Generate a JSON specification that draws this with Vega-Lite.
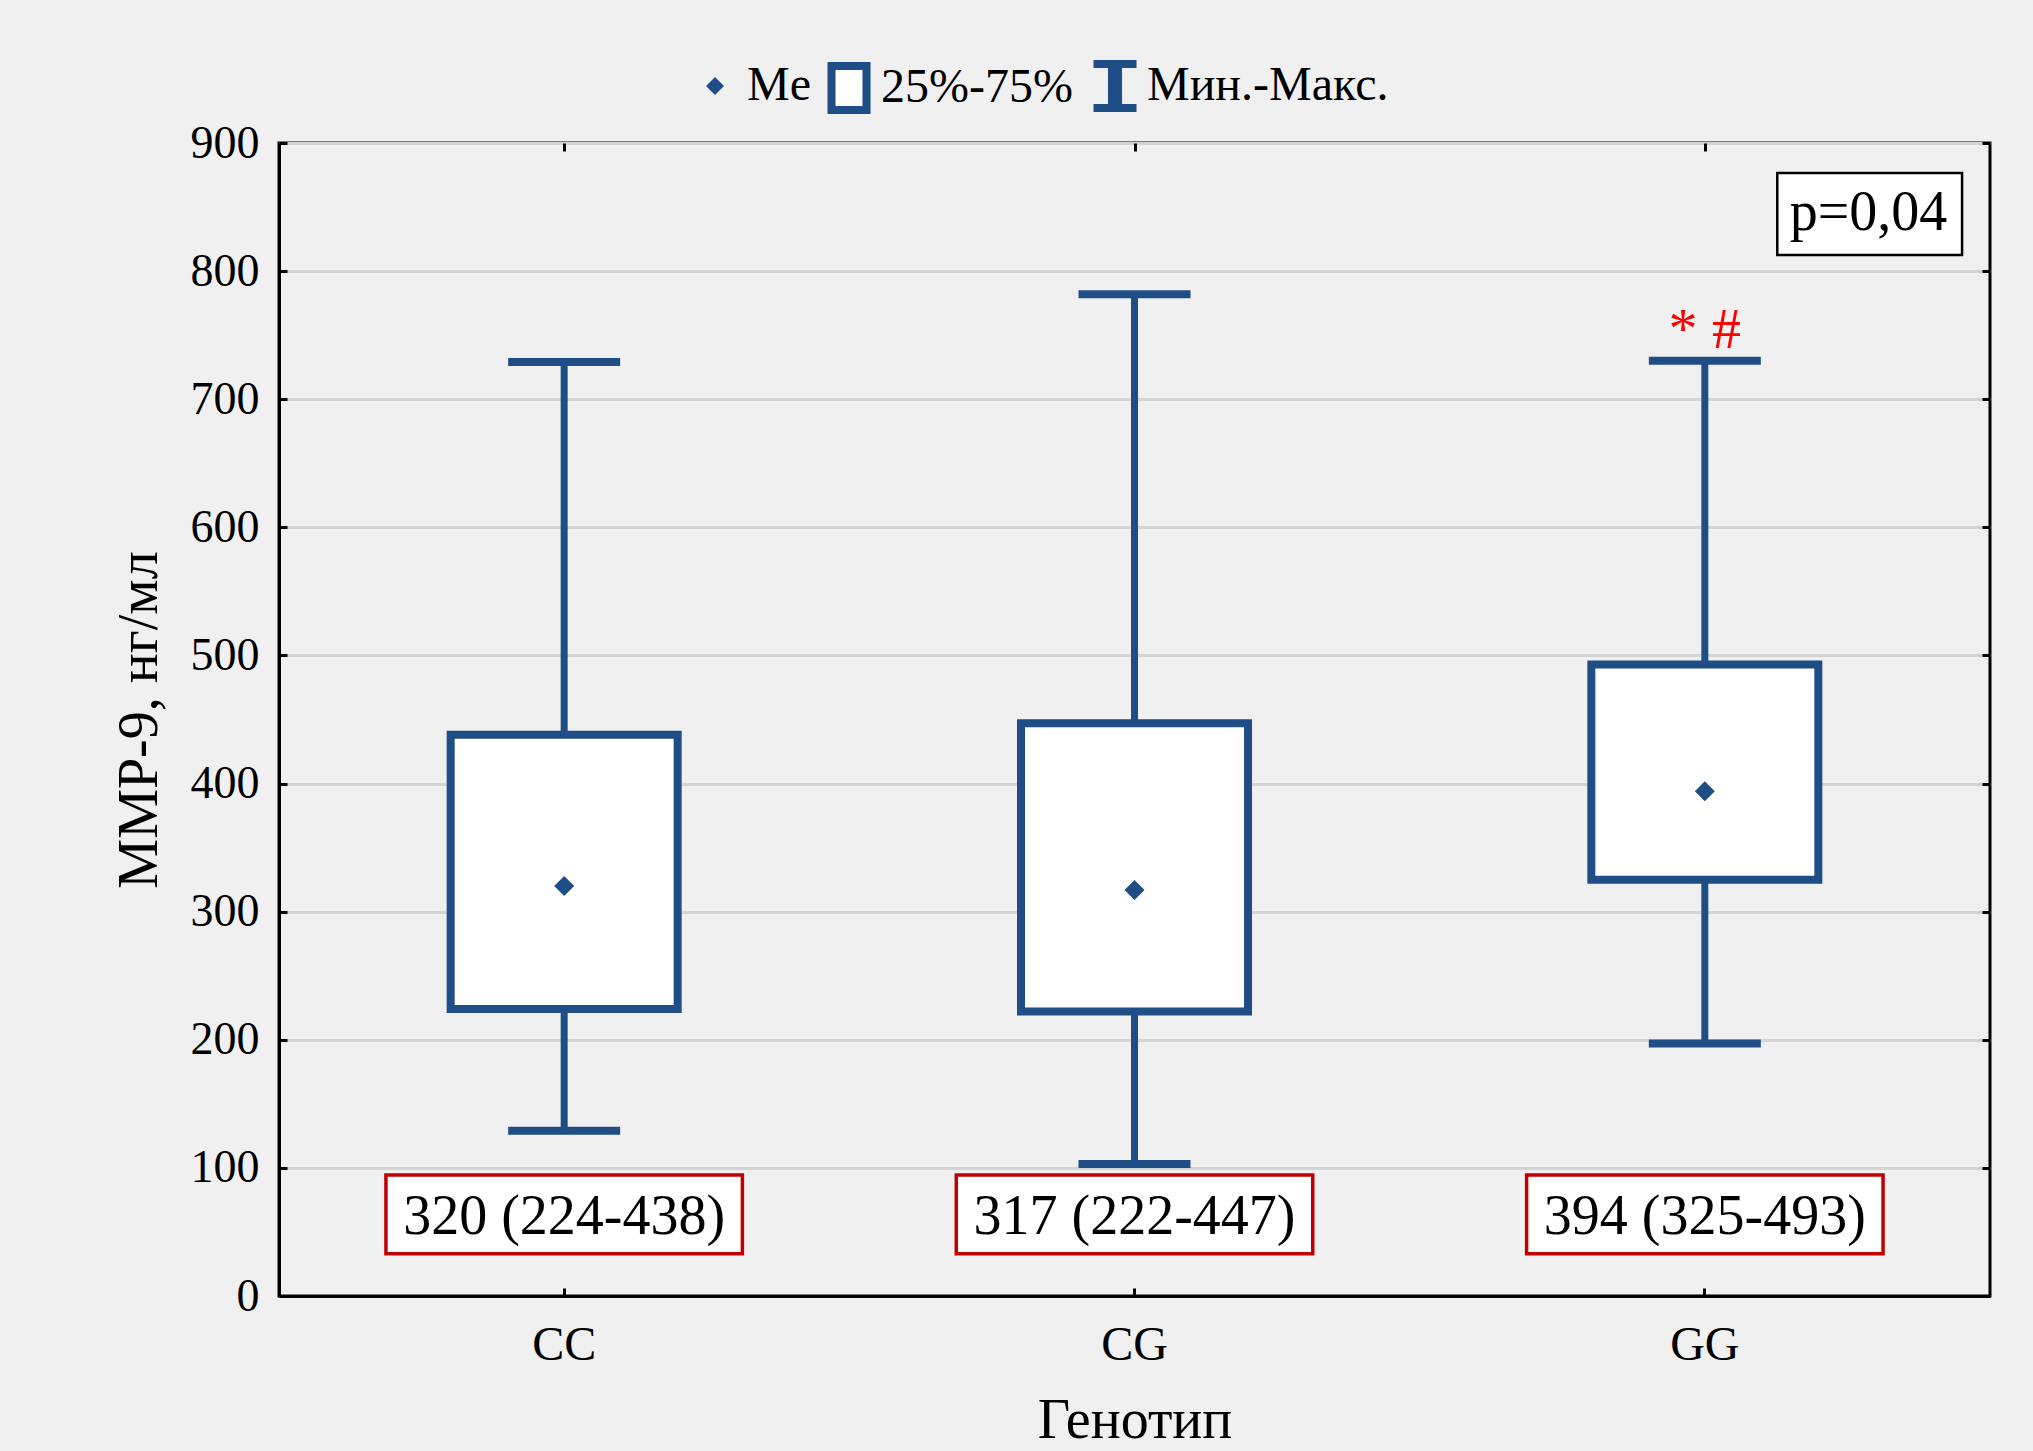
{
  "$schema": "https://vega.github.io/schema/vega-lite/v6.json",
  "width": 1711,
  "height": 1153,
  "autosize": {"type": "none"},
  "padding": {"left": 279, "top": 143, "right": 43, "bottom": 155},
  "background": "#f0f0f0",
  "config": {
    "view": {"fill": "white", "stroke": "black", "strokeWidth": 3},
    "font": "Liberation Serif",
    "axis": {
      "labelFont": "Liberation Serif",
      "titleFont": "Liberation Serif",
      "labelColor": "black",
      "titleColor": "black",
      "titleFontWeight": "normal",
      "domainColor": "black",
      "domainWidth": 3,
      "tickColor": "black",
      "tickWidth": 3,
      "tickSize": -8
    },
    "axisY": {
      "labelFontSize": 46,
      "labelPadding": 28,
      "titleFontSize": 56,
      "titlePadding": 22,
      "gridColor": "#d4d4d4",
      "gridWidth": 3,
      "tickCount": 9
    },
    "axisX": {
      "labelFontSize": 48,
      "labelPadding": 33,
      "labelAngle": 0,
      "titleFontSize": 56,
      "titlePadding": 24,
      "grid": false
    }
  },
  "layer": [
    {
      "data": {
        "values": [
          {"genotype": "CC", "min": 129, "q1": 224, "median": 320, "q3": 438, "max": 729, "label": "320 (224-438)", "sig": ""},
          {"genotype": "CG", "min": 103, "q1": 222, "median": 317, "q3": 447, "max": 782, "label": "317 (222-447)", "sig": ""},
          {"genotype": "GG", "min": 197, "q1": 325, "median": 394, "q3": 493, "max": 730, "label": "394 (325-493)", "sig": "* #"}
        ]
      },
      "encoding": {
        "x": {"field": "genotype", "type": "nominal", "title": "Генотип", "scale": {"paddingInner": 0, "paddingOuter": 0}}
      },
      "layer": [
        {
          "mark": {"type": "rule", "color": "#1F4E87", "strokeWidth": 7},
          "encoding": {
            "y": {"field": "min", "type": "quantitative", "title": "ММР-9, нг/мл", "scale": {"domain": [0, 900], "nice": false, "zero": false}},
            "y2": {"field": "q1"}
          }
        },
        {
          "mark": {"type": "rule", "color": "#1F4E87", "strokeWidth": 7},
          "encoding": {
            "y": {"field": "q3", "type": "quantitative", "title": "ММР-9, нг/мл"},
            "y2": {"field": "max"}
          }
        },
        {
          "mark": {"type": "tick", "color": "#1F4E87", "size": 112, "thickness": 8, "opacity": 1},
          "encoding": {"y": {"field": "min", "type": "quantitative", "title": "ММР-9, нг/мл"}}
        },
        {
          "mark": {"type": "tick", "color": "#1F4E87", "size": 112, "thickness": 8, "opacity": 1},
          "encoding": {"y": {"field": "max", "type": "quantitative", "title": "ММР-9, нг/мл"}}
        },
        {
          "mark": {"type": "bar", "fill": "white", "stroke": "#1F4E87", "strokeWidth": 8, "width": {"band": 0.398}},
          "encoding": {
            "y": {"field": "q1", "type": "quantitative", "title": "ММР-9, нг/мл"},
            "y2": {"field": "q3"}
          }
        },
        {
          "mark": {"type": "point", "shape": "diamond", "filled": true, "color": "#1F4E87", "size": 400, "opacity": 1},
          "encoding": {"y": {"field": "median", "type": "quantitative", "title": "ММР-9, нг/мл"}}
        },
        {
          "mark": {"type": "bar", "fill": "white", "stroke": "#C00000", "strokeWidth": 3.5, "width": {"band": 0.625}},
          "encoding": {
            "y": {"datum": 33, "type": "quantitative", "title": "ММР-9, нг/мл"},
            "y2": {"datum": 94.5}
          }
        },
        {
          "mark": {"type": "text", "fontSize": 56, "baseline": "middle", "color": "black", "font": "Liberation Serif"},
          "encoding": {
            "y": {"datum": 62, "type": "quantitative", "title": "ММР-9, нг/мл"},
            "text": {"field": "label"}
          }
        },
        {
          "mark": {"type": "text", "fontSize": 58, "baseline": "alphabetic", "dy": -13, "color": "#FF0000", "font": "Liberation Serif"},
          "encoding": {
            "y": {"field": "max", "type": "quantitative", "title": "ММР-9, нг/мл"},
            "text": {"field": "sig"}
          }
        }
      ]
    },
    {
      "data": {"values": [{"genotype": "CC"}, {"genotype": "CG"}, {"genotype": "GG"}]},
      "mark": {"type": "point", "opacity": 0},
      "encoding": {
        "x": {"field": "genotype", "type": "nominal", "scale": {"paddingInner": 0, "paddingOuter": 0}, "axis": {"orient": "top", "labels": false, "title": null, "domain": false, "grid": false}},
        "y": {"datum": 0, "type": "quantitative", "scale": {"domain": [0, 900], "nice": false, "zero": false}, "axis": {"orient": "right", "labels": false, "title": null, "domain": false, "grid": false, "tickCount": 9}}
      }
    },
    {
      "data": {"values": [{"p": "p=0,04"}]},
      "layer": [
        {
          "mark": {"type": "rect", "fill": "white", "stroke": "black", "strokeWidth": 2.5},
          "encoding": {
            "x": {"datum": 2.627, "type": "quantitative", "scale": {"domain": [0, 3], "nice": false, "zero": false}, "axis": null},
            "x2": {"datum": 2.951},
            "y": {"datum": 812.6, "type": "quantitative", "axis": null},
            "y2": {"datum": 876.6}
          }
        },
        {
          "mark": {"type": "text", "fontSize": 56, "baseline": "middle", "color": "black", "font": "Liberation Serif"},
          "encoding": {
            "x": {"datum": 2.787, "type": "quantitative", "axis": null},
            "y": {"datum": 845.5, "type": "quantitative", "axis": null},
            "text": {"field": "p"}
          }
        }
      ]
    },
    {
      "data": {"values": [{"item": "Me"}, {"item": "25%-75%"}, {"item": "Мин.-Макс."}]},
      "mark": {"type": "point", "filled": true, "opacity": 0},
      "encoding": {
        "shape": {
          "field": "item", "type": "nominal",
          "scale": {
            "domain": ["Me", "25%-75%", "Мин.-Макс."],
            "range": [
              "M-0.827,-1L-0.827,-1M0.827,1L0.827,1M0,-0.346L0.346,0L0,0.346L-0.346,0Z",
              "M-0.673,-0.846H0.673V0.846H-0.673Z",
              "M-0.827,-1H0.827V-0.69H0.27V0.69H0.827V1H-0.827V0.69H-0.27V-0.69H-0.827Z"
            ]
          },
          "legend": {"title": null, "orient": "none", "legendX": 406, "legendY": -87, "direction": "horizontal", "padding": 0, "symbolSize": 2704, "symbolStrokeWidth": 8, "symbolOpacity": 1, "labelFont": "Liberation Serif", "labelFontSize": 48, "labelColor": "black", "labelOffset": 2, "columnPadding": 4, "labelLimit": 0}
        },
        "fill": {
          "field": "item", "type": "nominal",
          "scale": {"domain": ["Me", "25%-75%", "Мин.-Макс."], "range": ["#1F4E87", "white", "#1F4E87"]},
          "legend": {"title": null, "orient": "none", "legendX": 406, "legendY": -87, "direction": "horizontal", "padding": 0, "symbolSize": 2704, "symbolStrokeWidth": 8, "symbolOpacity": 1, "labelFont": "Liberation Serif", "labelFontSize": 48, "labelColor": "black", "labelOffset": 2, "columnPadding": 4, "labelLimit": 0}
        },
        "stroke": {
          "field": "item", "type": "nominal",
          "scale": {"domain": ["Me", "25%-75%", "Мин.-Макс."], "range": ["transparent", "#1F4E87", "transparent"]},
          "legend": {"title": null, "orient": "none", "legendX": 406, "legendY": -87, "direction": "horizontal", "padding": 0, "symbolSize": 2704, "symbolStrokeWidth": 8, "symbolOpacity": 1, "labelFont": "Liberation Serif", "labelFontSize": 48, "labelColor": "black", "labelOffset": 2, "columnPadding": 4, "labelLimit": 0}
        }
      }
    }
  ],
  "resolve": {"scale": {"x": "independent"}, "axis": {"x": "independent", "y": "independent"}}
}
